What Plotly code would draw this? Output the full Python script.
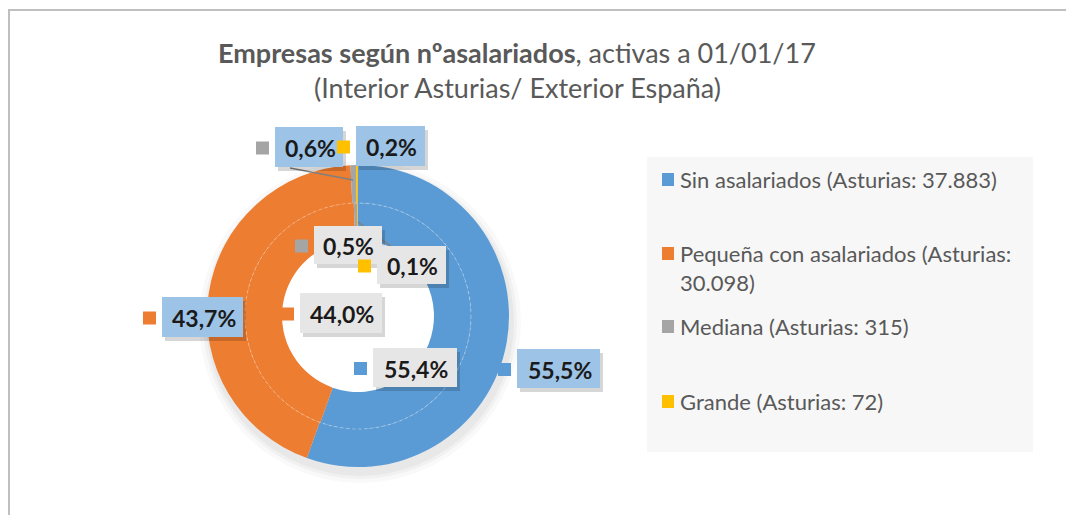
import plotly.graph_objects as go

# ---- data ----
categories = ["Sin asalariados", "Pequeña con asalariados", "Mediana", "Grande"]
asturias_counts = ["37.883", "30.098", "315", "72"]
asturias_pct = [55.4, 44.0, 0.5, 0.1]   # inner ring
espana_pct = [55.5, 43.7, 0.6, 0.2]     # outer ring
colors = ["#5B9BD5", "#ED7D31", "#A5A5A5", "#FFC000"]

# page has an 8px body margin; figure sized to the visible area
OFF = 8
W, H = 1074 - OFF, 515 - OFF
def px(x): return (x - OFF) / W
def py(y): return 1 - (y - OFF) / H

FONT = "Lato, Open Sans, sans-serif"

fig = go.Figure()

# donut geometry (pixels, in page coordinates)
cx, cy = 358, 316
r_out, r_mid, r_in = 151, 113, 76

shapes = []
annotations = []

# soft shadow under the donut
for k, a in [(10, 0.025), (6, 0.03), (3, 0.035)]:
    shapes.append(dict(type="circle", xref="paper", yref="paper", layer="below",
                       x0=px(cx - r_out - k + 2), x1=px(cx + r_out + k + 2),
                       y0=py(cy + r_out + k + 6), y1=py(cy - r_out - k + 6),
                       line=dict(width=0), fillcolor=f"rgba(0,0,0,{a})"))
# keep the hole white
shapes.append(dict(type="circle", xref="paper", yref="paper", layer="below",
                   x0=px(cx - r_in - 1), x1=px(cx + r_in + 1), y0=py(cy + r_in + 1), y1=py(cy - r_in - 1),
                   line=dict(width=0), fillcolor="white"))

fig.add_trace(go.Pie(
    values=espana_pct, labels=categories, sort=False, direction="clockwise", rotation=0,
    hole=r_mid / r_out, textinfo="none", hoverinfo="label+percent",
    marker=dict(colors=colors, line=dict(width=0)),
    domain=dict(x=[px(cx - r_out), px(cx + r_out)], y=[py(cy + r_out), py(cy - r_out)]),
    showlegend=False, name="España"))
fig.add_trace(go.Pie(
    values=asturias_pct, labels=categories, sort=False, direction="clockwise", rotation=0,
    hole=r_in / r_mid, textinfo="none", hoverinfo="label+percent",
    marker=dict(colors=colors, line=dict(width=0)),
    domain=dict(x=[px(cx - r_mid), px(cx + r_mid)], y=[py(cy + r_mid), py(cy - r_mid)]),
    showlegend=False, name="Asturias"))

# faint dashed ring boundary
shapes.append(dict(type="circle", xref="paper", yref="paper",
                   x0=px(cx - r_mid), x1=px(cx + r_mid), y0=py(cy + r_mid), y1=py(cy - r_mid),
                   line=dict(color="rgba(255,255,255,0.35)", width=1, dash="dot")))

# chart border
shapes.append(dict(type="rect", xref="paper", yref="paper", x0=px(9), x1=px(1100), y0=py(540), y1=py(10),
                   line=dict(color="#BFBFBF", width=2), fillcolor="rgba(0,0,0,0)", layer="below"))

# leader lines
for (x0, y0, x1, y1) in [(290, 168, 353, 180), (358, 222, 392, 247)]:
    shapes.append(dict(type="line", xref="paper", yref="paper", x0=px(x0), y0=py(y0), x1=px(x1), y1=py(y1),
                       line=dict(color="#7F7F7F", width=1.5)))

# data labels: (ring, category index, box left, top, right, bottom)
label_boxes = [
    ("out", 0, 517, 349, 600, 388),
    ("out", 1, 162, 297, 243, 337),
    ("out", 2, 275, 127, 343, 167),
    ("out", 3, 356, 126, 425, 166),
    ("in", 0, 373, 348, 457, 387),
    ("in", 1, 300, 293, 382, 333),
    ("in", 2, 314, 226, 382, 264),
    ("in", 3, 377, 246, 446, 284),
]
for ring, i, l, t, r, b in label_boxes:
    val = espana_pct[i] if ring == "out" else asturias_pct[i]
    fill = "#9DC3E6" if ring == "out" else "#E7E6E6"
    shapes.append(dict(type="rect", xref="paper", yref="paper", x0=px(l + 3), x1=px(r + 3), y0=py(b + 4), y1=py(t + 4),
                       line=dict(width=0), fillcolor="rgba(0,0,0,0.16)"))
    shapes.append(dict(type="rect", xref="paper", yref="paper", x0=px(l), x1=px(r), y0=py(b), y1=py(t),
                       line=dict(width=0), fillcolor=fill))
    sq = 13
    sx1 = l - 6
    sy = (t + b) / 2 + 1
    shapes.append(dict(type="rect", xref="paper", yref="paper", x0=px(sx1 - sq), x1=px(sx1),
                       y0=py(sy + sq / 2), y1=py(sy - sq / 2), line=dict(width=0), fillcolor=colors[i]))
    annotations.append(dict(xref="paper", yref="paper", x=px((l + r) / 2 + 1), y=py((t + b) / 2 + 1),
                            text="<b>" + f"{val:.1f}".replace(".", ",") + "%</b>", showarrow=False,
                            font=dict(family=FONT, size=23, color="#1A1A1A"),
                            xanchor="center", yanchor="middle"))

# legend (manual)
shapes.append(dict(type="rect", xref="paper", yref="paper", x0=px(647), x1=px(1033), y0=py(452), y1=py(157),
                   line=dict(width=0), fillcolor="#F7F7F7", layer="below"))
legend_texts = [f"{c} (Asturias: {n})" for c, n in zip(categories, asturias_counts)]
legend_texts[1] = "Pequeña con asalariados (Asturias:<br>" + asturias_counts[1] + ")"
legend_y = [179, 253, 326, 401]
for i, (txt, yy) in enumerate(zip(legend_texts, legend_y)):
    shapes.append(dict(type="rect", xref="paper", yref="paper", x0=px(662), x1=px(674),
                       y0=py(yy + 7), y1=py(yy - 6), line=dict(width=0), fillcolor=colors[i]))
    annotations.append(dict(xref="paper", yref="paper", x=px(678), y=py(yy - 15), text=txt, showarrow=False,
                            xanchor="left", yanchor="top", align="left",
                            font=dict(family=FONT, size=22, color="#595959")))

# title
annotations.append(dict(xref="paper", yref="paper", x=px(517), y=py(52),
                        text="<b>Empresas según nºasalariados</b>, activas a 01/01/17",
                        showarrow=False, xanchor="center", yanchor="middle",
                        font=dict(family=FONT, size=27, color="#595959")))
annotations.append(dict(xref="paper", yref="paper", x=px(517), y=py(87),
                        text="(Interior Asturias/ Exterior España)",
                        showarrow=False, xanchor="center", yanchor="middle",
                        font=dict(family=FONT, size=27, color="#595959")))

fig.update_layout(width=W, height=H, margin=dict(l=0, r=0, t=0, b=0),
                  paper_bgcolor="white", plot_bgcolor="white",
                  shapes=shapes, annotations=annotations, showlegend=False)
fig.write_html("out.html")
